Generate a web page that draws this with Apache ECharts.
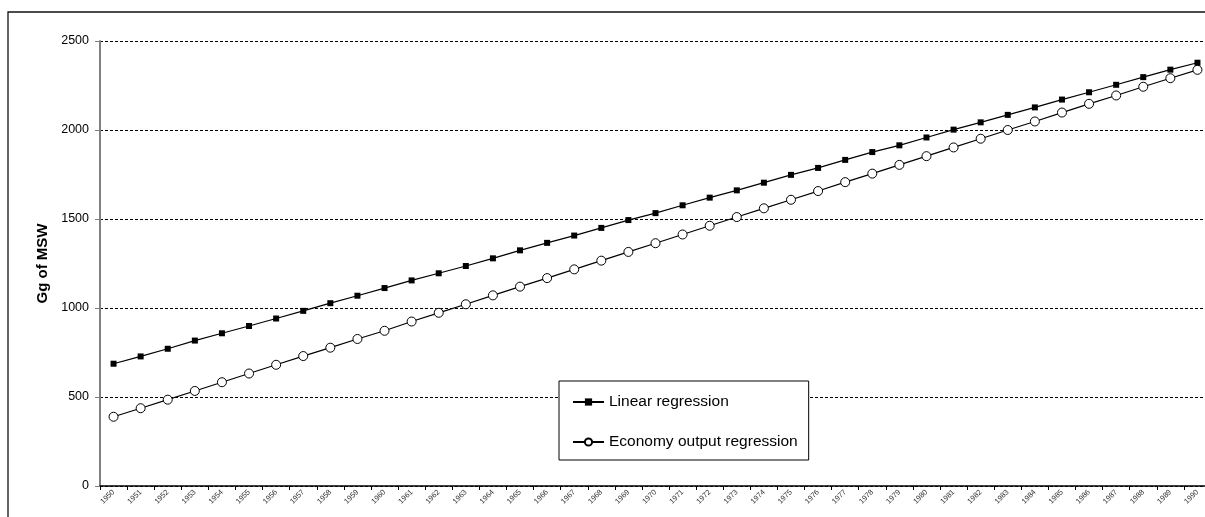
<!DOCTYPE html>
<html>
<head>
<meta charset="utf-8">
<script src="https://cdn.jsdelivr.net/npm/echarts@6/dist/echarts.min.js"></script>
<style>
  html, body { margin: 0; padding: 0; background: #fff; }
  #chart { width: 1205px; height: 517px; }
</style>
</head>
<body>
<div id="chart"></div>
<script>
// years on the x axis
var years = [];
for (var y = 1950; y <= 1990; y++) years.push(String(y));

// values (Gg of MSW)
var linearRegression = [
  687, 728, 771, 817, 858, 899, 941, 984, 1027, 1069,
  1112, 1155, 1195, 1236, 1279, 1324, 1366, 1407, 1450, 1494,
  1533, 1577, 1620, 1661, 1704, 1748, 1787, 1832, 1876, 1914,
  1958, 2002, 2043, 2085, 2127, 2171, 2212, 2254, 2297, 2339,
  2378
];
var economyRegression = [
  389, 437, 485, 534, 583, 632, 681, 730, 777, 826,
  872, 924, 973, 1021, 1071, 1120, 1168, 1217, 1266, 1315,
  1364, 1413, 1462, 1511, 1560, 1608, 1657, 1707, 1755, 1804,
  1853, 1902, 1951, 2000, 2048, 2098, 2147, 2194, 2243, 2291,
  2338
];
var yTicks = [0, 500, 1000, 1500, 2000, 2500];

var myChart = echarts.init(document.getElementById('chart'));
var font = '"Liberation Sans", Arial, sans-serif';

var option = {
  backgroundColor: '#fff',
  animation: false,
  textStyle: { fontFamily: font },
  graphic: [{
    type: 'rect',
    silent: true,
    z: -1,
    shape: { x: 8, y: 12, width: 1400, height: 700 },
    style: { fill: 'none', stroke: '#111', lineWidth: 1.3 }
  }],
  grid: {
    left: 100,
    width: 1111,
    top: 41,
    bottom: 31,
    containLabel: false,
    outerBoundsMode: 'none'
  },
  legend: {
    orient: 'vertical',
    left: 559,
    top: 381,
    padding: [13, 11, 10, 13],
    itemWidth: 31,
    itemHeight: 9,
    itemGap: 24,
    backgroundColor: '#fff',
    borderColor: '#000',
    borderWidth: 1,
    textStyle: { color: '#000', fontSize: 15.5, fontFamily: font },
    data: ['Linear regression', 'Economy output regression']
  },
  xAxis: {
    type: 'category',
    data: years,
    boundaryGap: true,
    axisLine: { lineStyle: { color: '#000', width: 1.5 } },
    axisTick: { show: true, length: 4, lineStyle: { color: '#000', width: 1 } },
    axisLabel: {
      interval: 0,
      rotate: 45,
      fontSize: 7.5,
      color: '#333',
      margin: 5,
      fontFamily: font
    },
    splitLine: { show: false }
  },
  yAxis: {
    type: 'value',
    min: yTicks[0],
    max: yTicks[yTicks.length - 1],
    interval: 500,
    name: 'Gg of MSW',
    nameLocation: 'middle',
    nameGap: 48,
    nameTextStyle: { fontSize: 15, fontWeight: 'bold', color: '#000', fontFamily: font },
    axisLine: { show: true, lineStyle: { color: '#808080', width: 2 } },
    axisTick: { show: true, length: 5, lineStyle: { color: '#808080', width: 1 } },
    axisLabel: {
      fontSize: 12.5,
      color: '#000',
      margin: 11,
      fontFamily: font,
      formatter: function (v) { return String(v); }
    },
    splitLine: { show: true, lineStyle: { color: '#000', width: 1, type: [3, 2] } }
  },
  series: [
    {
      name: 'Linear regression',
      type: 'line',
      data: linearRegression,
      symbol: 'rect',
      symbolSize: 6,
      itemStyle: { color: '#000' },
      lineStyle: { color: '#000', width: 1.2 },
      z: 3
    },
    {
      name: 'Economy output regression',
      type: 'line',
      data: economyRegression,
      symbol: 'circle',
      symbolSize: 9,
      itemStyle: { color: '#fff', borderColor: '#000', borderWidth: 1 },
      lineStyle: { color: '#000', width: 1.2 },
      z: 2
    }
  ]
};

myChart.setOption(option, true);
window.addEventListener('resize', function () {
  myChart.resize();
});
</script>
</body>
</html>
